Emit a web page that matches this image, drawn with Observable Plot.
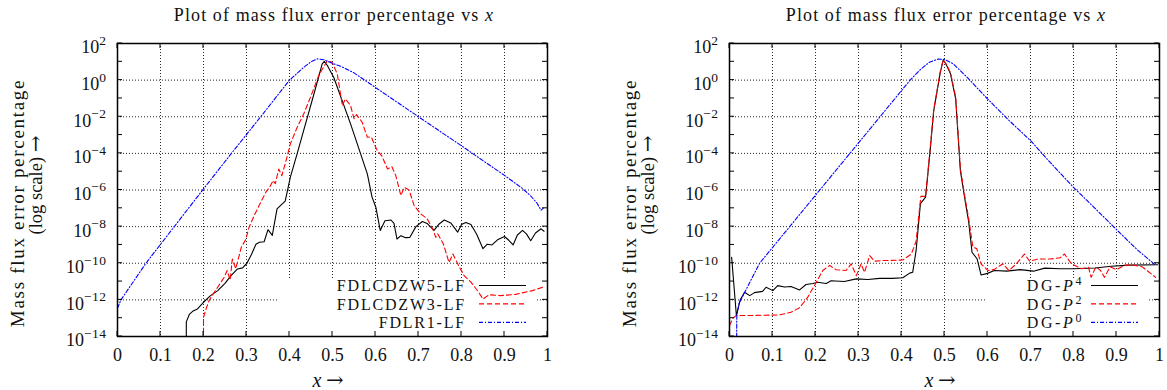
<!DOCTYPE html>
<html><head><meta charset="utf-8">
<script src="https://cdn.jsdelivr.net/npm/d3@7"></script>
<script src="https://cdn.jsdelivr.net/npm/@observablehq/plot@0.6"></script>
<style>
html,body{margin:0;padding:0;background:#fff;}
#wrap{position:relative;width:1167px;height:390px;overflow:hidden;font-family:"Liberation Serif","Times New Roman",serif;color:#111;}
.panel{position:absolute;top:0;height:390px;}
.lbl{position:absolute;white-space:nowrap;line-height:1;}
.arr{font-family:"DejaVu Serif","Liberation Serif",serif;}
</style></head><body><div id="wrap"></div>
<script>
// ---------- data (x, mass flux error percentage) ----------
const fdlcdzw5 = [[0.160,1e-16],[0.160,6.3e-14],[0.167,1.6e-13],[0.176,2.5e-13],[0.186,3.2e-13],[0.200,7.4e-13],[0.215,1.6e-12],[0.233,3.2e-12],[0.250,7.9e-12],[0.264,2.1e-11],[0.279,4.9e-11],[0.291,5.6e-11],[0.301,1.0e-10],[0.312,3.2e-10],[0.322,1.1e-9],[0.330,1.4e-9],[0.341,1.5e-9],[0.350,6.8e-9],[0.360,3.3e-9],[0.371,9.3e-8],[0.390,2.5e-7],[0.402,5.0e-6],[0.418,1.0e-4],[0.433,1.8e-3],[0.457,0.18],[0.476,7.8],[0.481,10.7],[0.488,6.3],[0.503,1.4],[0.542,4.1e-3],[0.581,7.6e-6],[0.592,4.1e-7],[0.601,1.1e-7],[0.611,6.2e-9],[0.622,2.1e-8],[0.636,2.3e-8],[0.643,1.5e-8],[0.650,2.1e-9],[0.659,3.2e-9],[0.670,2.5e-9],[0.680,2.6e-9],[0.694,1.0e-8],[0.709,1.9e-8],[0.720,1.5e-8],[0.736,6.2e-9],[0.748,1.4e-8],[0.760,2.3e-8],[0.775,1.6e-8],[0.791,5.0e-9],[0.800,1.3e-8],[0.810,1.7e-8],[0.822,1.3e-8],[0.835,4.0e-9],[0.850,6.2e-10],[0.860,1.1e-9],[0.871,1.0e-9],[0.885,2.0e-9],[0.900,2.9e-9],[0.910,1.8e-9],[0.920,1.0e-9],[0.930,3.5e-9],[0.942,6.2e-9],[0.951,4.0e-9],[0.961,1.7e-9],[0.972,4.5e-9],[0.985,7.6e-9],[0.992,5.6e-9]];
const fdlcdzw3 = [[0.200,1e-16],[0.200,1.1e-13],[0.206,3.2e-13],[0.213,9.3e-13],[0.225,2.6e-12],[0.233,4.9e-12],[0.248,1.7e-11],[0.255,4.0e-11],[0.262,1.2e-11],[0.267,1.7e-10],[0.275,5.0e-11],[0.288,7.6e-10],[0.298,1.9e-9],[0.306,9.3e-9],[0.318,4.1e-8],[0.333,2.1e-7],[0.345,7.6e-7],[0.355,1.6e-6],[0.362,3.3e-6],[0.367,2.2e-6],[0.375,1.4e-5],[0.382,6.0e-6],[0.391,3.3e-5],[0.402,3.3e-4],[0.418,2.7e-3],[0.433,1.4e-2],[0.449,0.12],[0.468,1.8],[0.488,11.7],[0.499,9.5],[0.511,2.2],[0.523,4.1e-2],[0.530,9.5e-2],[0.542,4.1e-2],[0.550,7.8e-3],[0.556,1.3e-2],[0.569,5.0e-3],[0.581,7.6e-4],[0.590,8.0e-4],[0.603,1.6e-4],[0.615,7.0e-5],[0.628,1.4e-5],[0.638,1.9e-5],[0.647,6.3e-6],[0.659,5.0e-7],[0.667,1.4e-6],[0.678,1.0e-6],[0.690,1.4e-7],[0.705,5.0e-8],[0.720,2.7e-8],[0.733,7.6e-9],[0.740,2.6e-9],[0.745,4.0e-9],[0.758,1.1e-9],[0.771,1.1e-10],[0.780,3.2e-10],[0.793,7.6e-11],[0.806,2.1e-11],[0.822,9.3e-12],[0.840,2.6e-12],[0.850,1.1e-12],[0.864,1.9e-12],[0.890,1.7e-12],[0.926,2.0e-12],[0.965,3.2e-12],[0.990,5.0e-12]];
const fdlr1 = [[0.000,3.5e-13],[0.008,1e-12],[0.066,1e-10],[0.132,1e-8],[0.198,1e-6],[0.265,1e-4],[0.333,1e-2],[0.400,1.0],[0.433,5.0],[0.450,10],[0.465,14.5],[0.480,13],[0.503,7.8],[0.520,5.6],[0.550,2.5],[0.604,0.34],[0.650,6.3e-2],[0.700,1.0e-2],[0.750,1.6e-3],[0.800,2.6e-4],[0.850,4.0e-5],[0.900,6.3e-6],[0.940,1.3e-6],[0.960,5.0e-7],[0.975,2.0e-7],[0.985,7.9e-8],[0.990,1.0e-7]];
const dgP4 = [[0.005,2.1e-10],[0.016,1.4e-13],[0.025,1.0e-12],[0.035,2.6e-12],[0.047,1.7e-12],[0.058,2.5e-12],[0.077,2.9e-12],[0.085,4.9e-12],[0.101,3.2e-12],[0.112,6.0e-12],[0.128,5.0e-12],[0.143,5.4e-12],[0.163,3.5e-12],[0.178,6.9e-12],[0.194,7.9e-12],[0.205,9.1e-12],[0.225,7.9e-12],[0.236,1.1e-11],[0.267,1.0e-11],[0.295,1.4e-11],[0.322,1.3e-11],[0.349,1.5e-11],[0.379,1.5e-11],[0.403,1.6e-11],[0.419,2.9e-11],[0.426,3.2e-11],[0.434,5.0e-10],[0.444,1.8e-7],[0.456,4.1e-7],[0.466,1.0e-4],[0.475,2.2e-2],[0.483,0.27],[0.490,2.5],[0.497,12.9],[0.505,6.3],[0.514,2.2],[0.526,9.5e-2],[0.537,1.1e-5],[0.549,1.8e-7],[0.556,2.0e-8],[0.564,4.0e-10],[0.576,1.7e-10],[0.585,2.3e-11],[0.600,2.8e-11],[0.616,4.0e-11],[0.645,3.7e-11],[0.676,4.5e-11],[0.707,3.7e-11],[0.733,5.4e-11],[0.769,5.0e-11],[0.800,5.0e-11],[0.850,5.5e-11],[0.888,6.9e-11],[0.930,7.9e-11],[0.996,8.3e-11]];
const dgP2 = [[0.000,4.0e-14],[0.008,1.0e-13],[0.016,1.4e-13],[0.050,1.4e-13],[0.116,1.5e-13],[0.143,2.1e-13],[0.163,3.7e-13],[0.182,1.4e-12],[0.202,9.3e-12],[0.217,4.0e-11],[0.233,7.6e-11],[0.248,4.4e-11],[0.271,4.0e-11],[0.283,9.3e-11],[0.295,2.1e-11],[0.306,9.3e-11],[0.314,3.2e-11],[0.326,2.6e-10],[0.337,1.3e-10],[0.357,1.4e-10],[0.403,1.5e-10],[0.423,3.2e-10],[0.434,1.6e-9],[0.445,4.5e-7],[0.456,4.5e-7],[0.466,1.3e-4],[0.475,2.5e-2],[0.483,0.30],[0.490,2.8],[0.497,12.6],[0.505,7.0],[0.514,2.5],[0.526,0.12],[0.537,1.4e-5],[0.549,2.5e-7],[0.556,3.0e-8],[0.566,7.6e-10],[0.575,6.3e-10],[0.585,9.3e-11],[0.601,4.0e-11],[0.615,4.5e-11],[0.636,9.3e-11],[0.650,4.0e-11],[0.667,9.3e-11],[0.686,3.2e-10],[0.698,1.3e-10],[0.717,1.7e-10],[0.745,1.7e-10],[0.769,2.0e-10],[0.779,3.2e-10],[0.795,9.3e-11],[0.819,5.0e-11],[0.835,6.0e-11],[0.841,1.7e-11],[0.852,6.3e-11],[0.863,4.0e-11],[0.872,1.7e-11],[0.885,6.3e-11],[0.900,4.5e-11],[0.919,7.9e-11],[0.940,7.9e-11],[0.960,6.3e-11],[0.971,4.0e-11],[0.991,1.7e-11]];
const dgP0 = [[0.016,1e-16],[0.017,1.4e-13],[0.022,6.3e-13],[0.035,2.5e-12],[0.070,1.0e-10],[0.140,1.0e-8],[0.210,1.0e-6],[0.280,1.0e-4],[0.350,1.0e-2],[0.420,1.0],[0.445,4.0],[0.465,9.5],[0.485,14],[0.500,13.5],[0.520,7.9],[0.553,1.4],[0.600,9.5e-2],[0.650,6.3e-3],[0.700,5.0e-4],[0.750,2.5e-5],[0.800,1.4e-6],[0.850,1.0e-7],[0.902,6.2e-9],[0.950,5.0e-10],[0.991,7.9e-11]];

// ---------- ticks & labels ----------
const xTickValues = [0, 0.1, 0.2, 0.3, 0.4, 0.5, 0.6, 0.7, 0.8, 0.9, 1];
const xGridValues = [0.1, 0.2, 0.3, 0.4, 0.5, 0.6, 0.7, 0.8, 0.9];
const yLabelExponents = [2, 0, -2, -4, -6, -8, -10, -12, -14];
const yGridExponents = [0, -2, -4, -6, -8, -10, -12];
const yDecadeExponents = [2, 1, 0, -1, -2, -3, -4, -5, -6, -7, -8, -9, -10, -11, -12, -13, -14];
const titleText = "Plot of mass flux error percentage vs ";
const yLabelLines = ["Mass flux error percentage", "(log scale) "];
const leftLegend = ["FDLCDZW5-LF", "FDLCDZW3-LF", "FDLR1-LF"];
const rightLegend = ["DG-P^4", "DG-P^2", "DG-P^0"];

const FONT = '"Liberation Serif","Times New Roman",serif';
const styles = [
  {color: "#000000", dash: null},
  {color: "#ff0000", dash: "5,3"},
  {color: "#0000ff", dash: "4,2,1,2"}
];

function writeLabel(textSel, s) {
  const m = s.match(/^(.*-)P\^(\d+)$/);
  if (!m) { textSel.text(s); return; }
  textSel.append("tspan").text(m[1]);
  textSel.append("tspan").attr("font-style", "italic").text("P");
  textSel.append("tspan").attr("font-size", 12).attr("dy", -6).text(m[2]);
}

function makePanel(cfg) {
  const keyBox = (index, scales, values, dims) => {
    const r = dims.width - dims.marginRight, b = dims.height - dims.marginBottom;
    return d3.create("svg:rect").attr("x", r - cfg.boxLeft).attr("y", b - 58)
      .attr("width", cfg.boxLeft - 10).attr("height", 58).attr("fill", "#fff").node();
  };
  const tickMarks = (index, {x, y}, values, dims) => {
    const l = dims.marginLeft, r = dims.width - dims.marginRight, t = dims.marginTop, b = dims.height - dims.marginBottom;
    const g = d3.create("svg:g").attr("stroke", "#000").attr("stroke-width", 1).attr("fill", "none");
    for (const v of xTickValues) { const px = x(v); g.append("path").attr("d", `M${px},${b}v-5M${px},${t}v5`); }
    for (const e of yDecadeExponents) { const py = y(10 ** e); g.append("path").attr("d", `M${l},${py}h5M${r},${py}h-5`); }
    return g.node();
  };
  const legend = (index, scales, values, dims) => {
    const r = dims.width - dims.marginRight, b = dims.height - dims.marginBottom;
    const g = d3.create("svg:g").attr("font-size", 16).attr("font-family", FONT).attr("fill", "#111");
    cfg.labels.forEach((lab, i) => {
      const cy = b - 50.5 + i * 18.4;
      g.append("line").attr("x1", r - 68).attr("x2", r - 21).attr("y1", cy).attr("y2", cy)
        .attr("stroke", styles[i].color).attr("stroke-width", 1.2)
        .attr("stroke-dasharray", styles[i].dash);
      const t = g.append("text").attr("x", r - cfg.textEnd).attr("y", cy).attr("dy", "0.35em")
        .attr("text-anchor", "end").attr("letter-spacing", cfg.legendSpacing);
      writeLabel(t, lab);
    });
    return g.node();
  };
  const svg = Plot.plot({
    width: cfg.width, height: 390,
    marginTop: 43, marginBottom: 54, marginLeft: cfg.ml, marginRight: cfg.mr,
    style: {fontFamily: FONT, fontSize: "18px", color: "#111", background: "transparent", overflow: "visible"},
    x: {domain: [0, 1]},
    y: {type: "log", domain: [1e-14, 1e2]},
    marks: [
      Plot.gridX({ticks: xGridValues, stroke: "#000", strokeOpacity: 0.85, strokeDasharray: "1,2"}),
      Plot.gridY({ticks: yGridExponents.map(e => 10 ** e), stroke: "#000", strokeOpacity: 0.85, strokeDasharray: "1,2"}),
      keyBox,
      ...cfg.series.map((s, i) => Plot.line(s, {x: d => d[0], y: d => d[1], stroke: styles[i].color,
        strokeWidth: 1.1, strokeDasharray: styles[i].dash, clip: true})),
      Plot.frame({stroke: "#000", strokeWidth: 1.5}),
      tickMarks,
      Plot.axisX({ticks: xTickValues, tickSize: 0, tickPadding: 12, label: null, fontSize: 18,
        fontFamily: FONT, tickFormat: d => d3.format("~g")(d)}),
      Plot.axisY({ticks: yLabelExponents.map(e => 10 ** e), tickSize: 0, tickPadding: 11, label: null,
        fontSize: 18, fontFamily: FONT,
        tickFormat: d => "10^" + String(Math.round(Math.log10(d))).replace("-", "\u2212")}),
      legend
    ]
  });
  // superscript exponents on the y tick labels
  d3.select(svg).selectAll("text").filter(function() { return this.textContent.startsWith("10^"); })
    .each(function() {
      const exp = this.textContent.slice(3);
      this.textContent = "";
      this.removeAttribute("dy");
      this.setAttribute("y", "0.55em");
      this.setAttribute("font-size", 18);
      this.setAttribute("font-family", FONT);
      const s = d3.select(this);
      s.append("tspan").text("10");
      s.append("tspan").attr("font-size", 13.5).attr("dy", -8.5).attr("letter-spacing", "0.5px").text(exp);
    });
  const holder = document.createElement("div");
  holder.className = "panel";
  holder.style.left = cfg.left + "px";
  holder.style.width = cfg.width + "px";
  holder.appendChild(svg);
  const wrap = document.getElementById("wrap");
  wrap.appendChild(holder);

  const frameCenter = cfg.left + cfg.ml + (cfg.width - cfg.ml - cfg.mr) / 2;
  const add = (html, cx, cy, size, rot, extra) => {
    const d = document.createElement("div");
    d.className = "lbl";
    d.innerHTML = html;
    d.style.left = cx + "px"; d.style.top = cy + "px"; d.style.fontSize = size + "px";
    d.style.transform = "translate(-50%,-50%)" + (rot ? " rotate(-90deg)" : "");
    if (extra) Object.assign(d.style, extra);
    wrap.appendChild(d);
  };
  add(titleText + "<i>x</i>", frameCenter + 2, 15, 18, false, {letterSpacing: "1.1px"});
  add("<i style='font-size:20px'>x</i> <span class='arr' style='font-size:21px'>\u2192</span>", frameCenter - 4, 380, 18, false);
  add(yLabelLines[0], cfg.left + cfg.ml - 100, 203, 19, true, {letterSpacing: "1.7px"});
  add(yLabelLines[1] + "<span class='arr' style='font-size:20px'>\u2192</span>", cfg.left + cfg.ml - 82, 185, 18.5, true);
}

makePanel({left: 0, width: 583, ml: 117, mr: 36, series: [fdlcdzw5, fdlcdzw3, fdlr1],
  labels: leftLegend, boxLeft: 269, textEnd: 81, legendSpacing: "1.8px"});
makePanel({left: 583, width: 584, ml: 146, mr: 8, series: [dgP4, dgP2, dgP0],
  labels: rightLegend, boxLeft: 172, textEnd: 75, legendSpacing: "2.6px"});
</script></body></html>
